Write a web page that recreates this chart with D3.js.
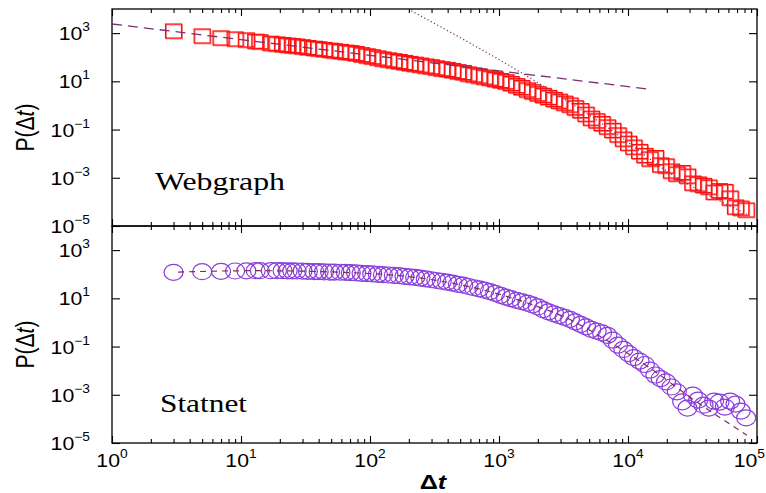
<!DOCTYPE html>
<html>
<head>
<meta charset="utf-8">
<script src="https://cdn.jsdelivr.net/npm/d3@7"></script>
<style>
  body { margin: 0; background: #fff; }
  svg text { font-family: "Liberation Sans", Arial, sans-serif; }
</style>
</head>
<body>
<svg id="chart" width="766" height="493"></svg>
<script>
// binned waiting times (shared by both panels)
var deltaT = [3, 5, 7, 9, 11, 13, 14, 17, 19, 21, 23, 25, 27, 30, 33, 37, 40, 44, 49, 53,
    59, 65, 71, 78, 86, 95, 104, 115, 126, 139, 153, 168, 185, 203, 224, 246, 271, 298, 327, 360,
    396, 436, 480, 528, 580, 638, 702, 772, 850, 935, 1030, 1130, 1240, 1370, 1500, 1660, 1820, 2000, 2200, 2420,
    2670, 2930, 3230, 3550, 3900, 4300, 4720, 5200, 5720, 6290, 6920, 7610, 8370, 9210, 10100, 11100, 12300, 13500, 14800, 16300,
    17900, 19700, 21700, 23900, 26300, 28900, 31800, 35000, 38500, 42300, 46500, 51200, 56300, 61900, 68100, 74900, 82400];

var webgraphP = [1220, 760, 630, 570, 520, 457, 437, 378, 353, 333,
    315, 300, 289, 270, 252, 234, 223, 209, 195, 184,
    173, 161, 154, 141, 127, 114, 104, 93, 84, 77,
    71, 66, 60, 55, 51, 47, 43, 40, 36, 33,
    31, 28, 25, 23, 20, 18.4, 16.6, 14.9, 13.5, 12,
    10.7, 9.6, 8.1, 6.6, 5.5, 4.4, 3.7, 3.05, 2.6, 2.15,
    1.77, 1.49, 1.24, 1.04, 0.80, 0.61, 0.43, 0.295, 0.23, 0.177,
    0.128, 0.092, 0.060, 0.040, 0.027, 0.0186, 0.0123, 0.0084, 0.006, 0.0069,
    0.0034, 0.0031, 0.0019, 0.00143, 0.00164, 0.00117, 6.0e-4, 5.5e-4, 4.8e-4, 4.1e-4,
    2.5e-4, 2.9e-4, 2.7e-4, 1.44e-4, 6.1e-5, 5.5e-5, 4.6e-5];

var statnetP = [120, 127, 131, 136, 138, 140, 140, 140, 140, 140,
    138, 137, 136, 135, 132, 129, 128, 126, 123, 122,
    121, 119, 116, 113, 109, 106, 103, 99, 96, 93,
    89, 87, 82, 78, 74, 69, 64, 59, 55, 51,
    47, 43, 38, 35, 31, 27.5, 24.8, 21.7, 19.1, 16.1,
    13.3, 11.2, 9.7, 8.3, 7.3, 6.3, 5.4, 4.4, 3.4, 2.75,
    2.28, 1.93, 1.63, 1.35, 1.06, 0.83, 0.66, 0.52, 0.44, 0.37,
    0.29, 0.186, 0.115, 0.076, 0.051, 0.035, 0.025, 0.018, 0.0106, 0.0066,
    0.0047, 0.0034, 0.0021, 0.00133, 5.1e-4, 2.8e-4, 9.7e-4, 6.0e-4, 3.7e-4, 2.8e-4,
    5.5e-4, 5.0e-4, 3.1e-4, 5.5e-4, 4.1e-4, 2.1e-4, 1.1e-4];

// fitted curves
var webPowerT = [1, 14300];
var webPowerP = [2390, 4.8];
var webCutoffT = [197, 2080, 6870, 22300, 83600];
var webCutoffP = [1e4, 7.7, 0.127, 1.29e-3, 3.1e-5];
var statFitT = [3.25, 12.8, 70, 244, 713, 1840, 3370, 6400, 15600, 30200, 83600];
var statFitP = [123, 140, 117, 70, 24, 5.3, 1.5, 0.225, 0.0106, 8.0e-4, 2.1e-5];

var xMajor = [1, 10, 100, 1000, 10000, 100000];
var yMajor = [1e-5, 1e-3, 1e-1, 1e1, 1e3];
var yExp = ["\u22125", "\u22123", "\u22121", "1", "3"];
var xExp = ["0", "1", "2", "3", "4", "5"];

var svg = d3.select("#chart");
var left = 112, right = 757;
var panels = [
    { top: 9, bottom: 226, name: "Webgraph", nameX: 155, nameY: 190, nameW: 130 },
    { top: 226, bottom: 443, name: "Statnet", nameX: 160, nameY: 412, nameW: 87 }
];

var x = d3.scaleLog().domain([1, 1e5]).range([left, right]);

var xMinor = [];
xMajor.slice(0, -1).forEach(function (d) {
    for (var k = 2; k <= 9; k++) xMinor.push(d * k);
});

panels.forEach(function (p, i) {
    p.y = d3.scaleLog().domain([1e-5, 1e4]).range([p.bottom, p.top]);

    svg.append("clipPath").attr("id", "clip" + i)
        .append("rect")
        .attr("x", left).attr("y", p.top)
        .attr("width", right - left).attr("height", p.bottom - p.top);

    // ticks
    var g = svg.append("g");
    g.append("g").attr("transform", "translate(0," + p.top + ")")
        .call(d3.axisTop(x).tickValues(xMajor).tickFormat("").tickSizeInner(-7).tickSizeOuter(0));
    g.append("g").attr("transform", "translate(0," + p.top + ")")
        .call(d3.axisTop(x).tickValues(xMinor).tickFormat("").tickSizeInner(-4).tickSizeOuter(0));
    g.append("g").attr("transform", "translate(0," + p.bottom + ")")
        .call(d3.axisBottom(x).tickValues(xMajor).tickFormat("").tickSizeInner(-7).tickSizeOuter(0));
    g.append("g").attr("transform", "translate(0," + p.bottom + ")")
        .call(d3.axisBottom(x).tickValues(xMinor).tickFormat("").tickSizeInner(-4).tickSizeOuter(0));
    g.append("g").attr("transform", "translate(" + left + ",0)")
        .call(d3.axisLeft(p.y).tickValues(yMajor).tickFormat("").tickSizeInner(-8).tickSizeOuter(0));
    g.append("g").attr("transform", "translate(" + right + ",0)")
        .call(d3.axisRight(p.y).tickValues(yMajor).tickFormat("").tickSizeInner(-8).tickSizeOuter(0));
    g.selectAll(".domain").remove();
    g.selectAll("line").attr("stroke", "#000").attr("stroke-width", 1.1);

    svg.append("rect")
        .attr("x", left).attr("y", p.top)
        .attr("width", right - left).attr("height", p.bottom - p.top)
        .attr("fill", "none").attr("stroke", "#000").attr("stroke-width", 1.3);

    // y tick labels
    yMajor.forEach(function (v, j) {
        var t = svg.append("text")
            .attr("transform", "translate(90," + (p.y(v) + 7) + ") scale(1.15,1)")
            .attr("text-anchor", "end").attr("font-size", 18.5);
        t.append("tspan").text("10");
        t.append("tspan").attr("dy", -9).attr("font-size", 12).text(yExp[j]);
    });

    // y title
    var yt = svg.append("text")
        .attr("transform", "translate(34," + ((p.top + p.bottom) / 2 + 10) + ") scale(1.25,1) rotate(-90)")
        .attr("text-anchor", "middle").attr("font-size", 21);
    yt.append("tspan").text("P(\u0394");
    yt.append("tspan").attr("font-style", "italic").text("t");
    yt.append("tspan").text(")");

    svg.append("text")
        .attr("x", p.nameX).attr("y", p.nameY)
        .attr("font-size", 25)
        .attr("textLength", p.nameW).attr("lengthAdjust", "spacingAndGlyphs")
        .style("font-family", "'Liberation Serif', 'Times New Roman', serif")
        .text(p.name);
});

var pTop = panels[0], pBot = panels[1];
var pts = function (ts, ps) { return ts.map(function (t, i) { return [t, ps[i]]; }); };

// Webgraph squares (slightly doubled outline like the original print)
var web = pts(deltaT, webgraphP);
var gw = svg.append("g").attr("clip-path", "url(#clip0)");
gw.selectAll("rect.shadow").data(web).enter().append("rect")
    .attr("class", "shadow")
    .attr("x", function (d) { return x(d[0]) - 8 + 0.8; })
    .attr("y", function (d) { return pTop.y(d[1]) - 7 + 0.8; })
    .attr("width", 16).attr("height", 14)
    .attr("fill", "none").attr("stroke", "#ff8080").attr("stroke-width", 1.2);
gw.selectAll("rect.sq").data(web).enter().append("rect")
    .attr("class", "sq")
    .attr("x", function (d) { return x(d[0]) - 8; })
    .attr("y", function (d) { return pTop.y(d[1]) - 7; })
    .attr("width", 16).attr("height", 14)
    .attr("fill", "none").attr("stroke", "#ff1010").attr("stroke-width", 1.2);

var lineTop = d3.line().x(function (d) { return x(d[0]); }).y(function (d) { return pTop.y(d[1]); });
gw.append("path").datum(pts(webPowerT, webPowerP))
    .attr("d", lineTop).attr("fill", "none")
    .attr("stroke", "#7a2f6c").attr("stroke-width", 1.3).attr("stroke-dasharray", "10,6");
gw.append("path").datum(pts(webCutoffT, webCutoffP))
    .attr("d", lineTop.curve(d3.curveMonotoneX)).attr("fill", "none")
    .attr("stroke", "#7a3a7a").attr("stroke-width", 1.2).attr("stroke-dasharray", "1.3,2.4");

// Statnet circles
var stat = pts(deltaT, statnetP);
var gs = svg.append("g").attr("clip-path", "url(#clip1)");
gs.selectAll("ellipse").data(stat).enter().append("ellipse")
    .attr("cx", function (d) { return x(d[0]); })
    .attr("cy", function (d) { return pBot.y(d[1]); })
    .attr("rx", 9.5).attr("ry", 8)
    .attr("fill", "none").attr("stroke", "#8a3ddb").attr("stroke-width", 1.2);

var lineBot = d3.line().curve(d3.curveMonotoneX)
    .x(function (d) { return x(d[0]); }).y(function (d) { return pBot.y(d[1]); });
gs.append("path").datum(pts(statFitT, statFitP))
    .attr("d", lineBot).attr("fill", "none")
    .attr("stroke", "#842a55").attr("stroke-width", 1.2).attr("stroke-dasharray", "6,5");

// x tick labels (last one right-aligned so it stays inside the frame)
xMajor.forEach(function (v, j) {
    var last = j === xMajor.length - 1;
    var t = svg.append("text")
        .attr("transform", "translate(" + (last ? 765 : x(v)) + ",467) scale(1.15,1)")
        .attr("text-anchor", last ? "end" : "middle").attr("font-size", 18.5);
    t.append("tspan").text("10");
    t.append("tspan").attr("dy", -9).attr("font-size", 12).text(xExp[j]);
});

// x title
var xt = svg.append("text")
    .attr("transform", "translate(433,489) scale(1.2,1)")
    .attr("text-anchor", "middle").attr("font-size", 21).attr("font-weight", "bold");
xt.append("tspan").text("\u0394");
xt.append("tspan").attr("font-style", "italic").text("t");
</script>
</body>
</html>
